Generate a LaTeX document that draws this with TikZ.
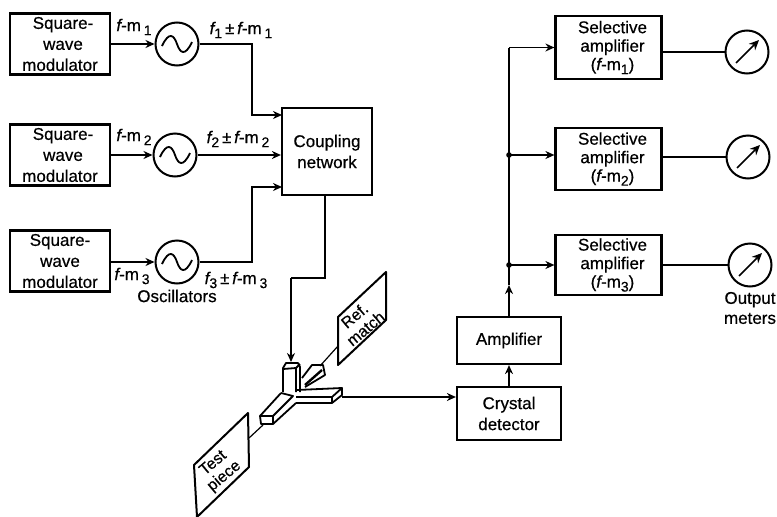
\documentclass[tikz,border=0pt]{standalone}
\usepackage{fontspec}
\setmainfont[FakeBold=0.5]{Liberation Sans}
\usetikzlibrary{calc,arrows.meta}

% lowered index, as printed in the labels
\newcommand{\idx}[1]{\raisebox{-4pt}{\fontsize{14}{14}\selectfont #1}}
\newcommand{\fm}[1]{{\itshape f}-m\,\idx{#1}}
\newcommand{\fsum}[1]{{\itshape f}\idx{#1}\,±\,\fm{#1}}

\begin{document}
\begin{tikzpicture}[
  x=1pt, y=-1pt,
  % --- global styling
  block/.style={draw, line width=2.2pt, inner sep=0pt, align=center, font=\fontsize{17}{21}\selectfont},
  selbox/.style={block, minimum width=106pt, minimum height=62pt, font=\fontsize{17}{18.5}\selectfont},
  modbox/.style={block, minimum width=100pt, minimum height=61pt},
  dial/.style={draw, circle, line width=2pt, minimum size=43pt, inner sep=0pt},
  tag/.style={font=\fontsize{17}{20}\selectfont, inner sep=0pt},
  conn/.style={line width=1.8pt, -{Stealth[length=9pt,width=8pt]}},
  wire/.style={line width=2pt},
  thinwire/.style={line width=1.2pt},
  guide/.style={line width=1.8pt, line join=round},
  card/.style={line width=2pt, line join=round},
  % IMPORTANT: the symbols inside the dials
  sinewave/.pic={\draw[line width=1.8pt] (-15,2) .. controls (-8,-13) and (-3,-9) .. (0,0) .. controls (3,9) and (8,13) .. (15,-2);},
  needle/.pic={\draw[line width=1.7pt, -{Stealth[length=10pt,width=9pt]}] (-11,11) -- (12,-12);},
]
\useasboundingbox (0,0) rectangle (777,517);

%========================
% Modulators and oscillators
%========================
\node[modbox] (mod1) at (60,44) {\hspace*{6pt}Square-\\\hspace*{6pt}wave\\modulator};
\node[modbox] (mod2) at (60,155) {\hspace*{6pt}Square-\\\hspace*{6pt}wave\\modulator};
\node[modbox] (mod3) at (60,261) {Square-\\wave\\modulator};

\node[dial] (osc1) at (177,44) {};
\node[dial] (osc2) at (175,155) {};
\node[dial] (osc3) at (177,262) {};
\pic at (osc1) {sinewave};
\pic at (osc2) {sinewave};
\pic at (osc3) {sinewave};

\draw[conn] (osc1 -| mod1.east) -- (osc1);
\draw[conn] (osc2 -| mod2.east) -- (osc2);
\draw[conn] (osc3 -| mod3.east) -- (osc3);

\node[tag] (labm1) at (134,27) {\fm{1}};
\node[tag] (labm2) at (134,137) {\fm{2}};
\node[tag] (labm3) at (132,276) {\fm{3}};
\node[tag] (labf1) at (241,30) {\fsum{1}};
\node[tag] (labf2) at (238,139) {\fsum{2}};
\node[tag] (labf3) at (236,280) {\fsum{3}};
\node[tag] (oscname) at (177,296) {Oscillators};

%========================
% Coupling network
%========================
\node[block, minimum width=90pt, minimum height=87pt] (net) at (327,151.5) {Coupling\\network};

% input points on the left edge
\coordinate (netin1) at (282,115);
\coordinate (netin3) at (282,187);
\draw[conn] (osc1) -| ($(netin1)+(-30,0)$) -- (netin1);
\draw[conn] (osc2 -| osc2.east) -- (osc2 -| net.west);
\draw[conn] (osc3) -| ($(netin3)+(-30,0)$) -- (netin3);

%========================
% Waveguide junction
%========================
\coordinate (feedtop) at (325,195);
\coordinate (feedbend) at (291,278);
\coordinate (feedend) at (291,362);
\draw[wire] (feedtop) |- (feedbend);
\draw[conn] (feedbend) -- (feedend);

% back stub
\draw[guide] (302,378) -- (312,365) -- (323,365) -- (325,375) -- (305,387);
\draw[line width=2.4pt] (305,385) -- (322,370);
% vertical stub
\draw[guide] (283,392) -- (283,368) -- (286,363) -- (298,363) -- (300,367) -- (300,392);
\draw[guide] (283,369) -- (296,368) -- (296,392);
\draw[guide] (296,368) -- (300,364);
% left arm
\draw[guide] (281,393) -- (260,416) -- (261,424) -- (273,424) -- (296,403);
\draw[guide] (260,416) -- (273,416) -- (273,424);
\draw[guide] (273,416) -- (293,396) -- (281,393);
% right arm
\draw[guide] (297,390) -- (342,388) -- (342,395) -- (332,403) -- (296,403);
\draw[guide] (296,397) -- (332,397) -- (342,388);
\draw[guide] (332,397) -- (332,403);

% ports of the junction
\coordinate (refport) at (320,366);
\coordinate (testport) at (263,425);
\coordinate (outport) at (342,397);

%========================
% Reference match and test piece
%========================
\draw[card] (338,317) -- (386,272) -- (386,320) -- (338,365) -- cycle;
\draw[card] (248,413) -- (249,467) -- (197,517) -- (194,465) -- cycle;
\coordinate (refedge) at (338,346);
\coordinate (testedge) at (249,438);
\draw[thinwire] (refport) -- (refedge);
\draw[thinwire] (testport) -- (testedge);
\node[tag, rotate=40, align=center, font=\fontsize{16}{17}\selectfont] (refname) at (360,322) {Ref.\\match};
\node[tag, rotate=40, align=center, font=\fontsize{16}{17}\selectfont] (testname) at (219,470) {Test\\piece};

%========================
% Detector and amplifiers
%========================
\node[block, minimum width=104pt, minimum height=53pt] (det) at (509,413.5) {Crystal\\detector};
\node[block, minimum width=104pt, minimum height=47pt] (amp) at (509,340.5) {Amplifier};
\draw[conn] (outport) -- (outport -| det.west);
\draw[conn] (det) -- (amp);

\node[selbox, minimum height=63pt] (sel1) at (608.5,47.5) {\hspace*{8pt}Selective\\\hspace*{8pt}amplifier\\\hspace*{8pt}({\itshape f}-m\idx{1})};
\node[selbox] (sel2) at (608.5,159) {\hspace*{8pt}Selective\\\hspace*{8pt}amplifier\\\hspace*{8pt}({\itshape f}-m\idx{2})};
\node[selbox, minimum height=60pt] (sel3) at (608.5,265) {\hspace*{8pt}Selective\\\hspace*{8pt}amplifier\\\hspace*{8pt}({\itshape f}-m\idx{3})};

% bus from the amplifier to the three selective amplifiers
\coordinate (busmid) at (509,285);
\coordinate (bustop) at (509,47.5);
\coordinate (bus2) at (509,155);
\coordinate (bus3) at (509,265);
\draw[conn] (amp) -- (busmid);
\draw[wire] (busmid) -- (bustop);
\draw[conn] (bustop) -- (bustop -| sel1.west);
\draw[conn] (bus2) -- (bus2 -| sel2.west);
\draw[conn] (bus3) -- (bus3 -| sel3.west);
\fill (bus2) circle (2.8pt);
\fill (bus3) circle (2.8pt);

%========================
% Output meters
%========================
\node[dial] (meter1) at (747,52) {};
\node[dial] (meter2) at (748,157) {};
\node[dial] (meter3) at (750,265) {};
\pic at (meter1) {needle};
\pic at (meter2) {needle};
\pic at (meter3) {needle};
\draw[thinwire] (meter1 -| sel1.east) -- (meter1);
\draw[thinwire] (meter2 -| sel2.east) -- (meter2);
\draw[thinwire] (meter3 -| sel3.east) -- (meter3);
\node[tag, align=center] (outname) at (750,308) {Output\\meters};

\end{tikzpicture}
\end{document}
